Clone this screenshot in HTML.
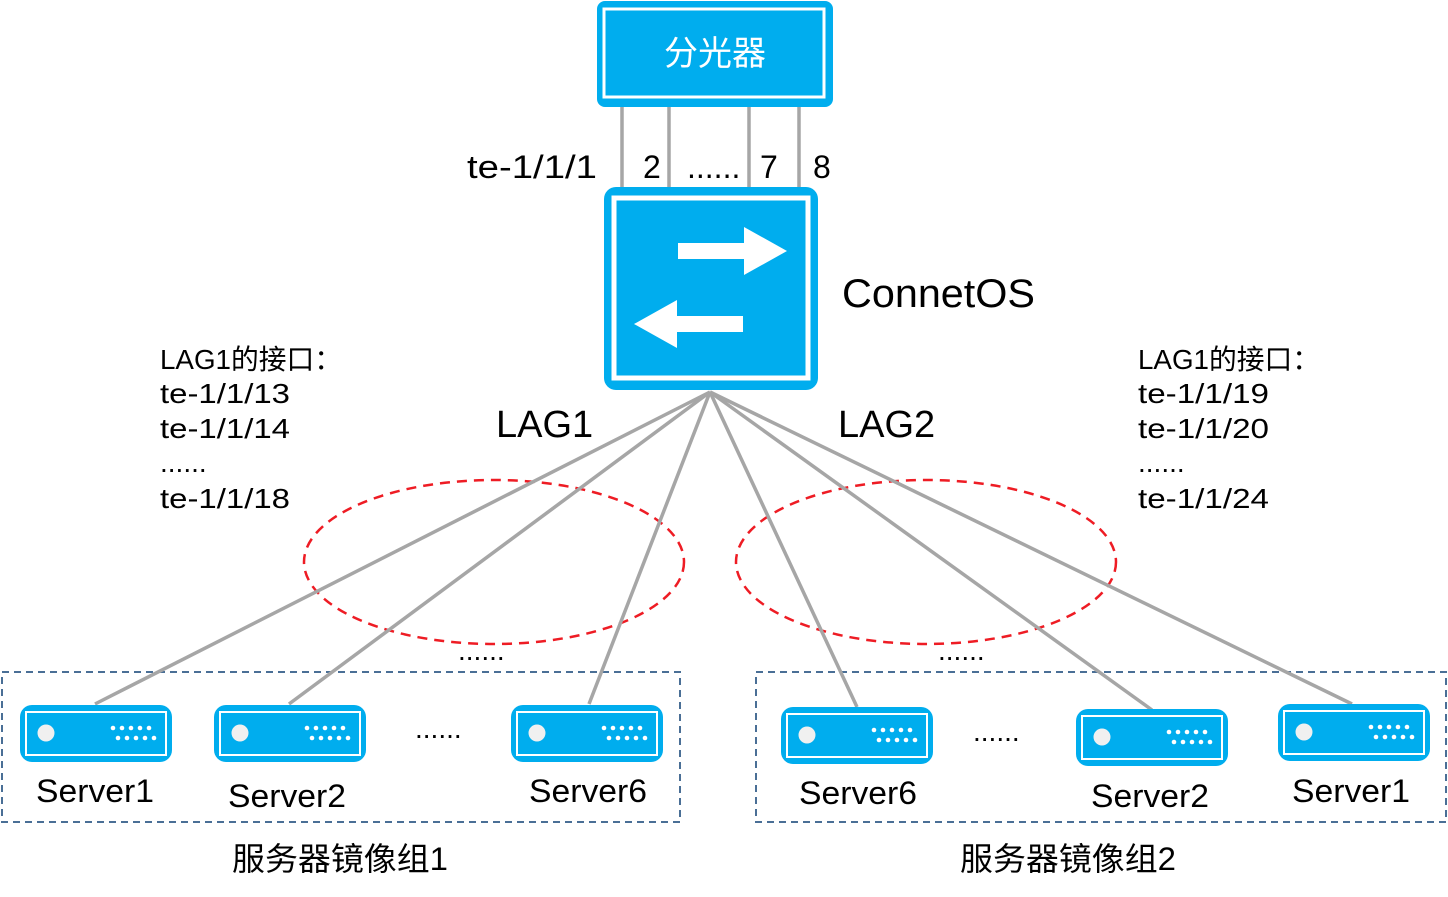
<!DOCTYPE html>
<html><head><meta charset="utf-8"><style>
html,body{margin:0;padding:0;background:#fff;}
svg{display:block;}
text{font-family:"Liberation Sans","Noto Sans CJK SC",sans-serif;fill:#000;}
</style></head><body>
<svg width="1448" height="897" viewBox="0 0 1448 897" xmlns="http://www.w3.org/2000/svg">
<defs>
<g id="srv">
<rect x="0" y="0" width="152" height="57" rx="12" fill="#00adee"/>
<rect x="6" y="7" width="140" height="43" fill="none" stroke="#fff" stroke-width="2"/>
<circle cx="26" cy="28" r="8.5" fill="#f0f0f0"/>
<g fill="#fff">
<circle cx="93" cy="23" r="2.3"/><circle cx="102" cy="23" r="2.3"/><circle cx="111" cy="23" r="2.3"/><circle cx="120" cy="23" r="2.3"/><circle cx="129" cy="23" r="2.3"/>
<circle cx="98" cy="33" r="2.3"/><circle cx="107" cy="33" r="2.3"/><circle cx="116" cy="33" r="2.3"/><circle cx="125" cy="33" r="2.3"/><circle cx="134" cy="33" r="2.3"/>
</g>
</g>
</defs>

<rect x="2" y="672" width="678" height="150" fill="none" stroke="#4a6f96" stroke-width="2" stroke-dasharray="7,5"/>
<rect x="756" y="672" width="690" height="150" fill="none" stroke="#4a6f96" stroke-width="2" stroke-dasharray="7,5"/>

<ellipse cx="494" cy="562" rx="190" ry="82" fill="none" stroke="#ee1c24" stroke-width="2.5" stroke-dasharray="10,7"/>
<ellipse cx="926" cy="562" rx="190" ry="82" fill="none" stroke="#ee1c24" stroke-width="2.5" stroke-dasharray="10,7"/>

<g stroke="#a6a6a6" stroke-width="3.5">
<line x1="710" y1="392" x2="95" y2="704"/>
<line x1="710" y1="392" x2="289" y2="704"/>
<line x1="710" y1="392" x2="589" y2="704"/>
<line x1="710" y1="392" x2="857" y2="707"/>
<line x1="710" y1="392" x2="1152" y2="710"/>
<line x1="710" y1="392" x2="1352" y2="704"/>
<line x1="622" y1="104" x2="622" y2="190"/>
<line x1="669" y1="104" x2="669" y2="190"/>
<line x1="749" y1="104" x2="749" y2="190"/>
<line x1="799" y1="104" x2="799" y2="190"/>
</g>

<rect x="597" y="1" width="236" height="106" rx="8" fill="#00adee"/>
<rect x="604" y="9" width="220" height="88" fill="none" stroke="#fff" stroke-width="3"/>
<text x="715" y="65" font-size="34" text-anchor="middle" style="fill:#fff">分光器</text>

<rect x="604" y="187" width="214" height="203" rx="12" fill="#00adee"/>
<rect x="614" y="198" width="194" height="180" fill="none" stroke="#fff" stroke-width="5"/>
<polygon points="678,243 744,243 744,227 787,251 744,275 744,259 678,259" fill="#fff"/>
<polygon points="743,316 677,316 677,300 634,324 677,348 677,332 743,332" fill="#fff"/>

<g font-size="32">
<text x="467" y="178" textLength="130" lengthAdjust="spacingAndGlyphs">te-1/1/1</text>
<text x="643" y="178">2</text>
<text x="687" y="178">......</text>
<text x="760" y="178">7</text>
<text x="813" y="178">8</text>
</g>
<text x="842" y="307" font-size="40" textLength="193" lengthAdjust="spacingAndGlyphs">ConnetOS</text>
<text x="496" y="437" font-size="38">LAG1</text>
<text x="838" y="437" font-size="38">LAG2</text>

<g font-size="28">
<text x="160" y="369" textLength="182" lengthAdjust="spacingAndGlyphs">LAG1的接口：</text>
<text x="160" y="403" textLength="130" lengthAdjust="spacingAndGlyphs">te-1/1/13</text>
<text x="160" y="438" textLength="130" lengthAdjust="spacingAndGlyphs">te-1/1/14</text>
<text x="160" y="472">......</text>
<text x="160" y="508" textLength="130" lengthAdjust="spacingAndGlyphs">te-1/1/18</text>
<text x="1138" y="369" textLength="182" lengthAdjust="spacingAndGlyphs">LAG1的接口：</text>
<text x="1138" y="403" textLength="131" lengthAdjust="spacingAndGlyphs">te-1/1/19</text>
<text x="1138" y="438" textLength="131" lengthAdjust="spacingAndGlyphs">te-1/1/20</text>
<text x="1138" y="472">......</text>
<text x="1138" y="508" textLength="131" lengthAdjust="spacingAndGlyphs">te-1/1/24</text>
</g>

<g font-size="28">
<text x="458" y="660">......</text>
<text x="938" y="660">......</text>
<text x="415" y="738">......</text>
<text x="973" y="741">......</text>
</g>

<use href="#srv" x="20" y="705"/>
<use href="#srv" x="214" y="705"/>
<use href="#srv" x="511" y="705"/>
<use href="#srv" x="781" y="707"/>
<use href="#srv" x="1076" y="709"/>
<use href="#srv" x="1278" y="704"/>

<g font-size="32">
<text x="36" y="802" textLength="118" lengthAdjust="spacingAndGlyphs">Server1</text>
<text x="228" y="807" textLength="118" lengthAdjust="spacingAndGlyphs">Server2</text>
<text x="529" y="802" textLength="118" lengthAdjust="spacingAndGlyphs">Server6</text>
<text x="799" y="804" textLength="118" lengthAdjust="spacingAndGlyphs">Server6</text>
<text x="1091" y="807" textLength="118" lengthAdjust="spacingAndGlyphs">Server2</text>
<text x="1292" y="802" textLength="118" lengthAdjust="spacingAndGlyphs">Server1</text>
</g>

<g font-size="32">
<text x="232" y="870" textLength="216" lengthAdjust="spacingAndGlyphs">服务器镜像组1</text>
<text x="960" y="870" textLength="216" lengthAdjust="spacingAndGlyphs">服务器镜像组2</text>
</g>
</svg>
</body></html>
